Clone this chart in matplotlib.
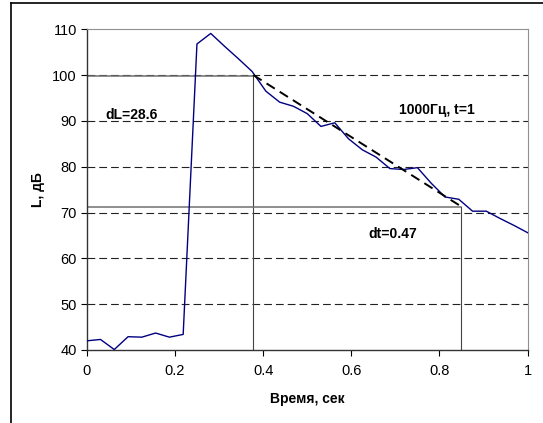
import matplotlib

matplotlib.use("Agg")
import matplotlib.pyplot as plt  # noqa: E402
from matplotlib.lines import Line2D  # noqa: E402

plt.rcParams["font.family"] = ["Liberation Sans", "DejaVu Sans"]

# measured decay curve, 1000 Hz
time = [i / 32 for i in range(33)]
level = [42.0, 42.3, 40.1, 42.9, 42.8, 43.7, 42.8, 43.4,
         106.8, 109.1, 106.3, 103.6, 100.8, 96.5, 94.1, 93.2,
         91.6, 88.8, 89.6, 86.1, 83.7, 82.1, 79.6, 79.4,
         79.8, 76.4, 73.4, 72.9, 70.3, 70.3, 68.7, 67.2, 65.6]

# decay fit: start / end points
t_start, t_end = 0.378, 0.848
l_start, l_end = 99.8, 71.2
fit_t = [t_start, t_end]
fit_l = [100.0, 71.4]

dl_label = "dL=28.6"
dt_label = "dt=0.47"
note_label = "1000Гц, t=1"

fig = plt.figure(figsize=(5.43, 4.23), dpi=100)
fig.add_artist(Line2D([11 / 543, 11 / 543], [0, 1 - 3 / 423], color="black", lw=1.2))
fig.add_artist(Line2D([11 / 543, 1], [1 - 3 / 423, 1 - 3 / 423], color="black", lw=1.2))

ax = fig.add_axes([0.1597, 0.1726, 0.8121, 0.7581])
ax.set_xlim(0, 1)
ax.set_ylim(40, 110)

for y in range(50, 110, 10):
    ax.axhline(y, color="#222222", lw=0.8, ls=(0, (7, 3.6)), zorder=1)

# reference lines for dL / dt
ax.plot([0, t_start], [l_start, l_start], color="#707070", lw=1.1, zorder=2)
ax.plot([t_start, t_start], [40, l_start], color="#444444", lw=0.8, zorder=2)
ax.plot([0, t_end], [l_end, l_end], color="#707070", lw=1.1, zorder=2)
ax.plot([t_end, t_end], [40, l_end], color="#444444", lw=0.8, zorder=2)

ax.plot(time, level, color="#000080", lw=1.0, zorder=3)
ax.plot(fit_t, fit_l, color="black", lw=1.4, ls=(0, (5, 3)), zorder=4)

ax.text(0.042, 91.2, dl_label, fontsize=10, fontweight="bold", va="center")
ax.text(0.708, 92.3, note_label, fontsize=10, fontweight="bold", va="center")
ax.text(0.638, 65.4, dt_label, fontsize=10, fontweight="bold", va="center")

ax.set_xticks([0, 0.2, 0.4, 0.6, 0.8, 1], ["0", "0.2", "0.4", "0.6", "0.8", "1"])
ax.set_yticks(range(40, 111, 10))
ax.tick_params(direction="out", length=4, width=0.8, labelsize=10.5, pad=3)
ax.tick_params(axis="x", pad=6)
ax.set_xlabel("Время, сек", fontsize=10, fontweight="bold", labelpad=10)
ax.set_ylabel("L, дБ", fontsize=10, fontweight="bold", labelpad=5)

for side in ("top", "right"):
    ax.spines[side].set_color("#909090")
for side in ("left", "bottom"):
    ax.spines[side].set_color("#333333")
    ax.spines[side].set_linewidth(1.0)

fig.savefig("out.png", dpi=100)
plt.close(fig)
